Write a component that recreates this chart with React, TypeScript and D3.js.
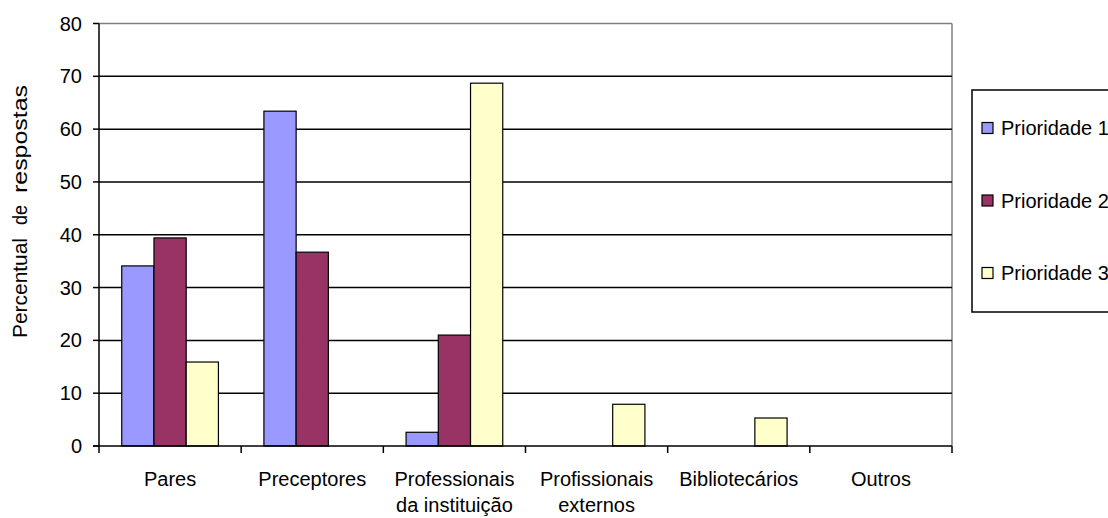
import React from "react";
import * as d3 from "d3";

const categories = [
  ["Pares"],
  ["Preceptores"],
  ["Professionais", "da instituição"],
  ["Profissionais", "externos"],
  ["Bibliotecários"],
  ["Outros"],
];
const seriesNames = ["Prioridade 1", "Prioridade 2", "Prioridade 3"];
const prioridade1 = [34.1, 63.4, 2.6, 0, 0, 0];
const prioridade2 = [39.4, 36.7, 21.0, 0, 0, 0];
const prioridade3 = [15.9, 0, 68.7, 7.9, 5.3, 0];
const yTicks = [0, 10, 20, 30, 40, 50, 60, 70, 80];
const yLabelWords = ["Percentual", "de", "respostas"];
const colors = ["#9999FF", "#993366", "#FFFFCC"];

export default function App() {
  const W = 1108, H = 518;
  const left = 99, right = 952, top = 23.5, bottom = 446;
  const series = [prioridade1, prioridade2, prioridade3];
  const x0 = d3.scaleBand<number>().domain(d3.range(categories.length)).range([left, right]).paddingInner(0).paddingOuter(0);
  const cw = x0.bandwidth();
  const x1 = d3.scaleBand<number>().domain([0, 1, 2]).range([cw * 0.16, cw * 0.84]).padding(0);
  const y = d3.scaleLinear().domain([0, 80]).range([bottom, top]);
  const font = "'Liberation Sans', Arial, sans-serif";
  const fs = 20;
  const yLabelStarts = [338, 225, 193];
  const yLabelLens = [100, 20, 108];
  return (
    <svg width={W} height={H} style={{ position: "absolute", left: 0, top: 0, background: "#fff" }} fontFamily={font}>
      <rect x={0} y={0} width={W} height={H} fill="#fff" />
      <line x1={left} x2={right} y1={y(80)} y2={y(80)} stroke="#808080" strokeWidth={1.5} />
      <line x1={right} x2={right} y1={y(80)} y2={bottom} stroke="#808080" strokeWidth={1.5} />
      {yTicks.filter(t => t > 0 && t < 80).map(t => (
        <line key={t} x1={left} x2={right} y1={y(t)} y2={y(t)} stroke="#000" strokeWidth={1.5} />
      ))}
      {series.map((vals, si) =>
        vals.map((v, ci) =>
          v > 0 ? (
            <rect key={si + "-" + ci} x={x0(ci)! + x1(si)!} y={y(v)} width={x1.bandwidth()} height={bottom - y(v)}
              fill={colors[si]} stroke="#000" strokeWidth={1.2} />
          ) : null
        )
      )}
      <line x1={left} x2={left} y1={y(80)} y2={bottom} stroke="#000" strokeWidth={1.5} />
      <line x1={left - 6} x2={right} y1={bottom} y2={bottom} stroke="#000" strokeWidth={1.5} />
      {yTicks.map(t => (
        <g key={t}>
          <line x1={left - 6} x2={left} y1={y(t)} y2={y(t)} stroke="#000" strokeWidth={1.5} />
          <text x={left - 17} y={y(t)} dy="0.35em" textAnchor="end" fontSize={fs} fill="#000">{t}</text>
        </g>
      ))}
      {d3.range(categories.length + 1).map(i => {
        const xx = left + i * cw;
        return <line key={i} x1={xx} x2={xx} y1={bottom} y2={bottom + 7} stroke="#000" strokeWidth={1.5} />;
      })}
      {categories.map((lines, ci) => (
        <text key={ci} x={x0(ci)! + cw / 2} y={486} textAnchor="middle" fontSize={fs} fill="#000">
          {lines.map((l, li) => (
            <tspan key={li} x={x0(ci)! + cw / 2} dy={li === 0 ? 0 : 26}>{l}</tspan>
          ))}
        </text>
      ))}
      {yLabelWords.map((w, i) => (
        <text key={w} transform={`translate(27, ${yLabelStarts[i]}) rotate(-90)`} textAnchor="start" fontSize={20}
          textLength={yLabelLens[i]} lengthAdjust="spacingAndGlyphs" fill="#000">{w}</text>
      ))}
      <rect x={972} y={90} width={150} height={222} fill="#fff" stroke="#000" strokeWidth={1.5} />
      {seriesNames.map((s, i) => {
        const cy = 128 + i * 72.5;
        return (
          <g key={s}>
            <rect x={982} y={cy - 5.5} width={11} height={11} fill={colors[i]} stroke="#000" strokeWidth={1.2} />
            <text x={1001} y={cy} dy="0.36em" fontSize={fs} fill="#000">{s}</text>
          </g>
        );
      })}
    </svg>
  );
}
